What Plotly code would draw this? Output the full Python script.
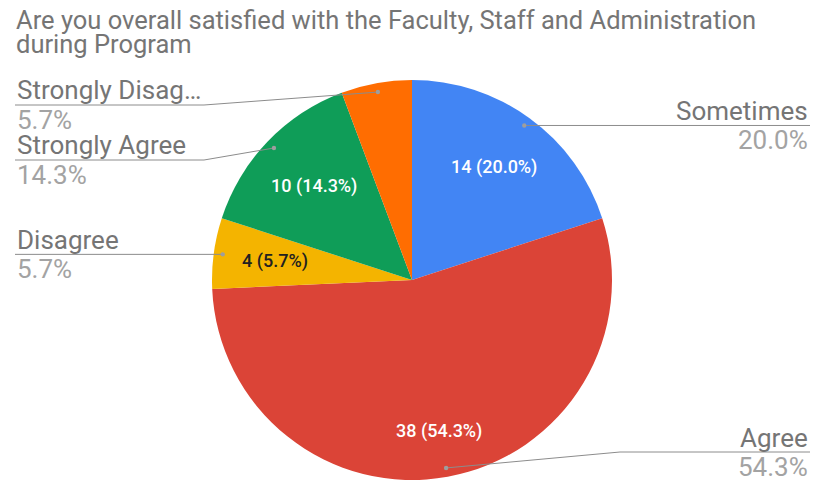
import math
import plotly.graph_objects as go

categories = ["Sometimes", "Agree", "Disagree", "Strongly Agree", "Strongly Disagree"]
responses = [14, 38, 4, 10, 4]
slice_colors = ["#4285f4", "#db4437", "#f4b400", "#0f9d58", "#ff6d01"]
inside_text_colors = ["#ffffff", "#ffffff", "#212121", "#ffffff", "#ffffff"]
title_lines = ["Are you overall satisfied with the Faculty, Staff and Administration",
               "during Program"]

W, H = 816, 481
CX, CY, R = 412, 280, 200
FONT = "Roboto"


def px(x):
    return x / W


def py(y):
    return 1 - y / H


def polar(r, a):
    return CX + r * math.sin(a), CY - r * math.cos(a)


def short_name(s, n=15):
    return s if len(s) <= n else s[:n - 1] + "\u2026"


total = sum(responses)
pcts = [v / total * 100 for v in responses]

# mid angle of each slice, clockwise from 12 o'clock
mids = []
acc = 0
for v in responses:
    mids.append((acc + v / 2) / total * 2 * math.pi)
    acc += v

fig = go.Figure()
fig.add_trace(go.Pie(
    labels=categories, values=responses, sort=False, direction="clockwise",
    rotation=0, textinfo="none", hoverinfo="label+value+percent",
    marker=dict(colors=slice_colors, line=dict(width=0)),
    domain=dict(x=[px(CX - R), px(CX + R)], y=[py(CY + R), py(CY - R)]),
    showlegend=False,
))

annotations = []
shapes = []

# title, one annotation per line to keep the tight line spacing
for i, line in enumerate(title_lines):
    annotations.append(dict(
        text=line, xref="paper", yref="paper", x=px(14), y=py(20.5 + i * 23),
        xanchor="left", yanchor="middle", showarrow=False,
        font=dict(family=FONT, size=25.5, color="#757575")))

# labels inside the slices: push the text box out until its far corner sits at 0.86R
for name, v, p, a, tc in zip(categories, responses, pcts, mids, inside_text_colors):
    if p < 10 and abs(math.sin(a)) < 0.5:
        continue
    txt = f"{v} ({p:.1f}%)"
    w, h = 8.2 * len(txt), 14
    lo, hi = 0, R
    for _ in range(40):
        t = (lo + hi) / 2
        far = math.hypot(abs(t * math.sin(a)) + w / 2, abs(t * math.cos(a)) + h / 2)
        if far > 0.86 * R:
            hi = t
        else:
            lo = t
    x, y = polar(lo, a)
    annotations.append(dict(
        text=txt, xref="paper", yref="paper", x=px(x), y=py(y),
        xanchor="center", yanchor="middle", showarrow=False,
        font=dict(family=FONT, size=18, color=tc, weight=500)))

# outside labels with leader lines
TOP_Y, BOTTOM_Y, GAP = 105, 452, 55
sides = {"left": [], "right": []}
for i, a in enumerate(mids):
    dx, dy = polar(0.955 * R, a)
    sides["right" if math.sin(a) >= 0 else "left"].append([dy, i, dx, dy])

for side, items in sides.items():
    items.sort()
    prev = None
    for it in items:
        ly = min(max(it[0], TOP_Y), BOTTOM_Y)
        if prev is not None:
            ly = max(ly, prev + GAP)
        it[0] = ly
        prev = ly
    for ly, i, dx, dy in items:
        if side == "right":
            ex, endx, anchor = CX + R + 8, 810, "right"
        else:
            ex, endx, anchor = CX - R - 8, 15, "left"
        shapes.append(dict(
            type="path", xref="paper", yref="paper", layer="above",
            path=f"M {px(dx)} {py(dy)} L {px(ex)} {py(ly)} L {px(endx)} {py(ly)}",
            line=dict(color="#8c8c8c", width=1)))
        shapes.append(dict(
            type="circle", xref="paper", yref="paper", layer="above",
            x0=px(dx - 2.2), x1=px(dx + 2.2), y0=py(dy - 2.2), y1=py(dy + 2.2),
            fillcolor="#9e9e9e", line=dict(width=0)))
        annotations.append(dict(
            text=short_name(categories[i]), xref="paper", yref="paper",
            x=px(endx), y=py(ly - 14.5), xanchor=anchor, yanchor="middle",
            showarrow=False, font=dict(family=FONT, size=26, color="#757575")))
        annotations.append(dict(
            text=f"{pcts[i]:.1f}%", xref="paper", yref="paper",
            x=px(endx), y=py(ly + 14.5), xanchor=anchor, yanchor="middle",
            showarrow=False, font=dict(family=FONT, size=26, color="#a3a3a3")))

fig.update_layout(
    width=W, height=H, margin=dict(l=0, r=0, t=0, b=0),
    paper_bgcolor="white", plot_bgcolor="white",
    annotations=annotations, shapes=shapes,
)
# drop the default page margin so the figure fills the window exactly
fig.write_html("out.html", config={"displayModeBar": False},
               post_script="document.body.style.margin='0';document.body.style.overflow='hidden';")
